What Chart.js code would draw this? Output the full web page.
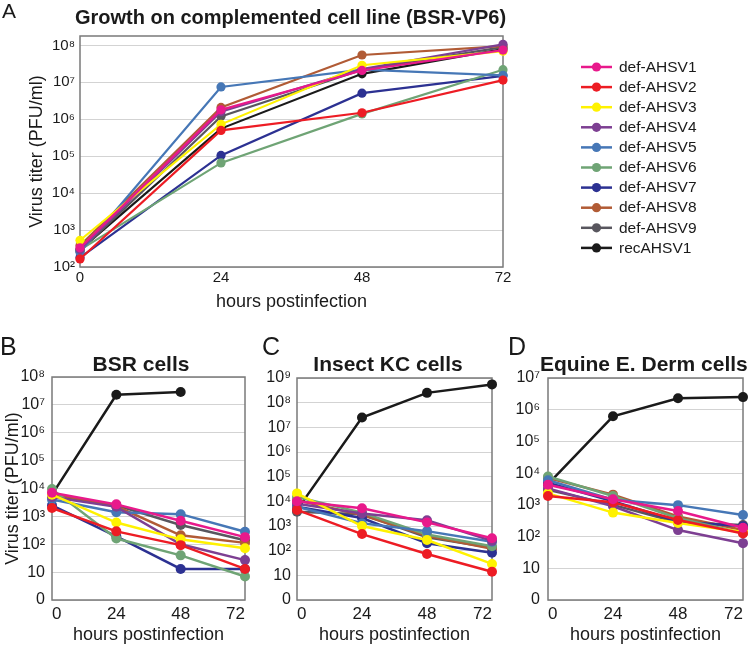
<!DOCTYPE html>
<html><head><meta charset="utf-8">
<script src="https://cdn.jsdelivr.net/npm/chart.js@4.4.0/dist/chart.umd.min.js"></script>
<style>
html,body{margin:0;padding:0;background:#fff;width:750px;height:647px;overflow:hidden;position:relative;font-family:"Liberation Sans",Arial,sans-serif;color:#1a1a1a}
.box{position:absolute}
.lbl{position:absolute;white-space:nowrap}
.ttl{position:absolute;white-space:nowrap;font-weight:bold;text-align:center}
</style></head><body>
<div class="box" style="left:0;top:0;width:750px;height:320px"><canvas id="cA" width="750" height="320"></canvas></div>
<div class="box" style="left:0;top:330px;width:250px;height:317px"><canvas id="cB" width="250" height="317"></canvas></div>
<div class="box" style="left:250px;top:330px;width:250px;height:317px"><canvas id="cC" width="250" height="317"></canvas></div>
<div class="box" style="left:500px;top:330px;width:250px;height:317px"><canvas id="cD" width="250" height="317"></canvas></div>

<div class="lbl" style="left:2px;top:0;font-size:21px;line-height:21px">A</div>
<div class="lbl" style="left:0;top:334px;font-size:25px;line-height:25px">B</div>
<div class="lbl" style="left:262px;top:334px;font-size:25px;line-height:25px">C</div>
<div class="lbl" style="left:508px;top:334px;font-size:25px;line-height:25px">D</div>

<div class="ttl" style="left:0;top:5px;width:581px;font-size:20px;line-height:24px">Growth on complemented cell line (BSR-VP6)</div>
<div class="ttl" style="left:0;top:351px;width:282px;font-size:21px;line-height:25px">BSR cells</div>
<div class="ttl" style="left:276px;top:351px;width:224px;font-size:21px;line-height:25px">Insect KC cells</div>
<div class="ttl" style="left:540px;top:351px;text-align:left;font-size:21px;line-height:25px">Equine E. Derm cells</div>

<script>
// ---------- data ----------
const hours = [0, 24, 48, 72];
const seriesNames = ['def-AHSV1','def-AHSV2','def-AHSV3','def-AHSV4','def-AHSV5','def-AHSV6','def-AHSV7','def-AHSV8','def-AHSV9','recAHSV1'];

const tickValues = [1, 10, 1e2, 1e3, 1e4, 1e5, 1e6, 1e7, 1e8, 1e9];
const tickLabels = ['0', '10', '10²', '10³', '10⁴', '10⁵', '10⁶', '10⁷', '10⁸', '10⁹'];

// Panel A: complemented cell line (BSR-VP6)
const A_def1 = [330, 1.8e6, 2.1e7, 7.5e7];
const A_def2 = [165, 5.0e5, 1.5e6, 1.15e7];
const A_def3 = [530, 7.3e5, 2.9e7, 7.0e7];
const A_def4 = [300, 1.6e6, 2.3e7, 1.07e8];
const A_def5 = [250, 7.5e6, 2.2e7, 1.55e7];
const A_def6 = [290, 6.6e4, 1.4e6, 2.2e7];
const A_def7 = [180, 1.05e5, 5.1e6, 1.5e7];
const A_def8 = [380, 2.1e6, 5.5e7, 9.6e7];
const A_def9 = [270, 1.2e6, 2.2e7, 9.0e7];
const A_rec  = [290, 5.6e5, 1.7e7, 8.0e7];

// Panel B: BSR cells
const B_def1 = [7000, 2700, 700, 180];
const B_def2 = [2000, 290, 93, 13];
const B_def3 = [6000, 600, 150, 72];
const B_def4 = [5000, 2200, 100, 27];
const B_def5 = [4000, 1400, 1200, 280];
const B_def6 = [9500, 160, 40, 7];
const B_def7 = [2500, 190, 13, 13];
const B_def8 = [6500, 2300, 210, 112];
const B_def9 = [5500, 2500, 490, 140];
const B_rec  = [6000, 2.3e7, 2.9e7, null];

// Panel C: Insect KC cells
const C_def1 = [10000, 5200, 1400, 320];
const C_def2 = [4500, 470, 73, 14];
const C_def3 = [21000, 1000, 270, 29];
const C_def4 = [8000, 3200, 1700, 250];
const C_def5 = [6000, 1300, 620, 230];
const C_def6 = [15000, 3500, 450, 150];
const C_def7 = [6000, 2100, 200, 83];
const C_def8 = [11000, 2800, 400, 120];
const C_def9 = [3800, 3000, 350, 130];
const C_rec  = [4500, 2.5e7, 2.5e8, 5.5e8];

// Panel D: Equine E. Derm cells
const D_def1 = [4300, 1500, 640, 190];
const D_def2 = [1900, 1200, 335, 125];
const D_def3 = [2300, 570, 270, 140];
const D_def4 = [3300, 900, 160, 62];
const D_def5 = [6000, 1450, 980, 480];
const D_def6 = [7800, 1900, 380, 130];
const D_def7 = [5000, 1300, 300, 210];
const D_def8 = [7000, 2100, 430, 160];
const D_def9 = [3000, 1000, 280, 230];
const D_rec  = [4500, 6.2e5, 2.3e6, 2.5e6];

// ---------- style ----------
const seriesColors = ['#e8198b','#ed1c24','#fff200','#7d3f92','#4677b6','#6fa475','#2c3192','#b15b35','#58565e','#1a1a1a'];
const FONT = '"Liberation Sans", Arial, sans-serif';
const TXT = '#1a1a1a';

const framePlugin = {
  id: 'frame',
  beforeDatasetsDraw(chart) {
    const {ctx, chartArea: a} = chart;
    ctx.save();
    ctx.strokeStyle = '#7a7a7a';
    ctx.lineWidth = 1.5;
    ctx.strokeRect(a.left, a.top, a.right - a.left, a.bottom - a.top);
    ctx.restore();
  }
};

const legendPlugin = {
  id: 'sideLegend',
  afterDraw(chart) {
    const ctx = chart.ctx;
    ctx.save();
    chart.data.datasets.forEach((ds, i) => {
      const y = 67 + i * 20.1;
      ctx.strokeStyle = ds.borderColor;
      ctx.lineWidth = 2.5;
      ctx.beginPath(); ctx.moveTo(581, y); ctx.lineTo(612, y); ctx.stroke();
      ctx.fillStyle = ds.borderColor;
      ctx.beginPath(); ctx.arc(596.5, y, 4.6, 0, Math.PI * 2); ctx.fill();
      ctx.fillStyle = TXT;
      ctx.font = '15.5px ' + FONT;
      ctx.textBaseline = 'middle';
      ctx.textAlign = 'left';
      ctx.fillText(ds.label, 619, y + 0.5);
    });
    ctx.restore();
  }
};

function makePanel(id, series, cfg) {
  const vals = tickValues.filter(v => v >= cfg.min * 0.999 && v <= cfg.max * 1.001);
  const datasets = series.map((s, i) => ({
    label: seriesNames[i],
    data: hours.map((h, j) => ({x: h, y: s[j]})),
    borderColor: seriesColors[i],
    backgroundColor: seriesColors[i],
    pointBackgroundColor: seriesColors[i],
    pointBorderColor: seriesColors[i],
    pointBorderWidth: 0,
    pointRadius: cfg.r,
    borderWidth: cfg.w,
    tension: 0,
    clip: false,
    spanGaps: false
  }));
  return new Chart(document.getElementById(id), {
    type: 'line',
    data: {datasets},
    plugins: cfg.legend ? [framePlugin, legendPlugin] : [framePlugin],
    options: {
      responsive: false, animation: false, devicePixelRatio: 1,
      layout: {padding: {left: 0, right: cfg.padR, top: cfg.padT, bottom: 0}},
      plugins: {legend: {display: false}, title: {display: false}, tooltip: {enabled: false}},
      scales: {
        x: {
          type: 'linear', min: 0, max: 72,
          afterBuildTicks: s => { s.ticks = hours.map(v => ({value: v})); },
          afterFit: s => { s.height = cfg.xH; s.paddingLeft = 0; s.paddingRight = 0; },
          grid: {display: false, drawTicks: false},
          border: {display: false},
          ticks: {padding: cfg.xTickPad, align: cfg.xAlign, font: {size: cfg.xtick, family: FONT}, color: TXT, maxRotation: 0, autoSkip: false},
          title: {display: true, text: 'hours postinfection', font: {size: 18, family: FONT}, color: TXT, padding: {top: 0, bottom: cfg.xTitlePad}}
        },
        y: {
          type: 'logarithmic', min: cfg.min, max: cfg.max,
          afterBuildTicks: s => { s.ticks = vals.map(v => ({value: v})); },
          afterFit: s => { s.width = cfg.yW; s.paddingTop = 0; s.paddingBottom = 0; },
          grid: {color: '#d3d3d3', lineWidth: 1, drawTicks: false},
          border: {display: false},
          ticks: {
            padding: cfg.yTickPad, font: {size: cfg.ytick, family: FONT}, color: TXT, autoSkip: false,
            callback: v => { const k = tickValues.indexOf(v); return k >= 0 ? tickLabels[k] : ''; }
          },
          title: cfg.yTitle
            ? {display: true, text: 'Virus titer (PFU/ml)', font: {size: 18, family: FONT}, color: TXT, padding: {top: cfg.yTitlePad, bottom: 0}}
            : {display: false}
        }
      }
    }
  });
}

makePanel('cA', [A_def1, A_def2, A_def3, A_def4, A_def5, A_def6, A_def7, A_def8, A_def9, A_rec], {
  min: 100, max: 1.8e8, padT: 36, padR: 247, yW: 80, xH: 53, xtick: 15, ytick: 15, xAlign: 'center',
  xTickPad: 2, xTitlePad: 7, yTickPad: 5, yTitle: true, yTitlePad: 26, r: 4.6, w: 2.2, legend: true
});
makePanel('cB', [B_def1, B_def2, B_def3, B_def4, B_def5, B_def6, B_def7, B_def8, B_def9, B_rec], {
  min: 1, max: 1e8, padT: 47, padR: 4, yW: 52, xH: 47, xtick: 17, ytick: 16, xAlign: 'inner',
  xTickPad: 4, xTitlePad: 1, yTickPad: 7, yTitle: true, yTitlePad: 2, r: 5, w: 2.5
});
makePanel('cC', [C_def1, C_def2, C_def3, C_def4, C_def5, C_def6, C_def7, C_def8, C_def9, C_rec], {
  min: 1, max: 1e9, padT: 48, padR: 8, yW: 47, xH: 47, xtick: 17, ytick: 16, xAlign: 'inner',
  xTickPad: 4, xTitlePad: 1, yTickPad: 6, yTitle: false, r: 5, w: 2.5
});
makePanel('cD', [D_def1, D_def2, D_def3, D_def4, D_def5, D_def6, D_def7, D_def8, D_def9, D_rec], {
  min: 1, max: 1e7, padT: 48, padR: 7, yW: 48, xH: 47, xtick: 17, ytick: 16, xAlign: 'inner',
  xTickPad: 4, xTitlePad: 1, yTickPad: 8, yTitle: false, r: 5, w: 2.5
});
</script>
</body></html>
